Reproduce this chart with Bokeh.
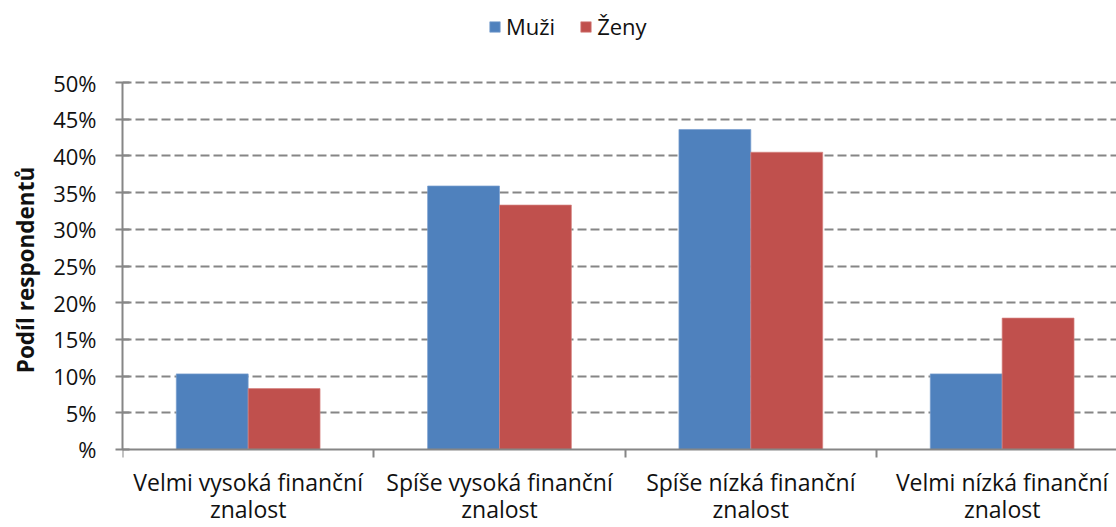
from bokeh.plotting import figure
from bokeh.models import (ColumnDataSource, FixedTicker, Legend, LegendItem,
                          Range1d)
from bokeh.core.properties import value
from bokeh.embed import file_html
from bokeh.resources import INLINE

categories = ["Velmi vysoká finanční\nznalost", "Spíše vysoká finanční\nznalost",
              "Spíše nízká finanční\nznalost", "Velmi nízká finanční\nznalost"]
muzi = [10.3, 35.9, 43.6, 10.3]
zeny = [8.3, 33.3, 40.5, 17.9]
y_ticks = [0, 5, 10, 15, 20, 25, 30, 35, 40, 45, 50]
y_tick_labels = ["%", "5%", "10%", "15%", "20%", "25%", "30%", "35%", "40%", "45%", "50%"]

FONT = "Open Sans"
GRAY = "#868686"
BLUE = "#4F81BD"
RED = "#C0504D"
TXT = "#111111"

xs = list(range(1, len(categories) + 1))
bw = 0.286
src = ColumnDataSource(dict(
    xm=[x - bw / 2 for x in xs], xz=[x + bw / 2 for x in xs],
    muzi=muzi, zeny=zeny))

p = figure(width=1116, height=527, output_backend="svg", toolbar_location=None,
           x_range=Range1d(0.5, 4.455), y_range=Range1d(-10.63, 59.54),
           min_border_left=122, min_border_right=0, min_border_top=12,
           min_border_bottom=0)
p.outline_line_color = None
p.background_fill_color = "white"

r1 = p.vbar(x="xm", top="muzi", width=bw, source=src, fill_color=BLUE,
            line_color="#7A9FCF", line_width=0.7)
r2 = p.vbar(x="xz", top="zeny", width=bw, source=src, fill_color=RED,
            line_color="#D68380", line_width=0.7)

# x axis (placed at y = 0 inside the frame); category labels drawn as text
p.xaxis.fixed_location = 0
p.xaxis.ticker = FixedTicker(ticks=[], minor_ticks=[0.5, 1.5, 2.5, 3.5])
p.xaxis.major_label_text_font_size = "0px"
p.xaxis.major_tick_line_color = None
p.xaxis.major_tick_in = 0
p.xaxis.major_tick_out = 0
p.xaxis.minor_tick_in = 0
p.xaxis.minor_tick_out = 8
p.xaxis.minor_tick_line_color = GRAY
p.xaxis.minor_tick_line_width = 2
p.xaxis.axis_line_color = GRAY
p.xaxis.axis_line_width = 2

lines = [c.split("\n") for c in categories]
lab_src = ColumnDataSource(dict(x=xs, y=[0] * len(xs),
                                l1=[l[0] for l in lines],
                                l2=[l[1] for l in lines]))
for col, off in (("l1", 33), ("l2", 60)):
    p.text(x="x", y="y", text=col, source=lab_src, y_offset=off,
           text_align="center", text_baseline="alphabetic",
           text_font=value(FONT), text_font_size="23px", text_color=TXT)

# y axis
p.yaxis.ticker = FixedTicker(ticks=y_ticks)
p.yaxis.bounds = (0, 50)
p.yaxis.major_label_overrides = {t: l for t, l in zip(y_ticks, y_tick_labels)}
p.yaxis.minor_tick_line_color = None
p.yaxis.major_tick_in = 7
p.yaxis.major_tick_out = 7
p.yaxis.major_tick_line_color = GRAY
p.yaxis.major_tick_line_width = 2
p.yaxis.axis_line_color = GRAY
p.yaxis.axis_line_width = 2
p.yaxis.major_label_text_font = FONT
p.yaxis.major_label_text_font_size = "22px"
p.yaxis.major_label_text_color = TXT
p.yaxis.major_label_standoff = 19
p.yaxis.axis_label = "Podíl respondentů"
p.yaxis.axis_label_text_font = FONT
p.yaxis.axis_label_text_font_style = "bold"
p.yaxis.axis_label_text_font_size = "22.5px"
p.yaxis.axis_label_text_color = TXT
p.yaxis.axis_label_standoff = 9

# grid
p.xgrid.grid_line_color = None
p.ygrid.ticker = FixedTicker(ticks=y_ticks[1:])
p.ygrid.grid_line_color = GRAY
p.ygrid.grid_line_width = 2
p.ygrid.grid_line_dash = "9 4"

legend = Legend(items=[LegendItem(label="Muži", renderers=[r1]),
                       LegendItem(label="Ženy", renderers=[r2])],
                orientation="horizontal", location=(366, 486),
                label_text_font=FONT, label_text_font_size="22px",
                label_text_color=TXT,
                glyph_width=13, glyph_height=13, label_standoff=5,
                spacing=24, padding=0, margin=0, border_line_color=None,
                background_fill_alpha=0)
p.add_layout(legend)

open("out.html", "w").write(file_html(p, INLINE))
